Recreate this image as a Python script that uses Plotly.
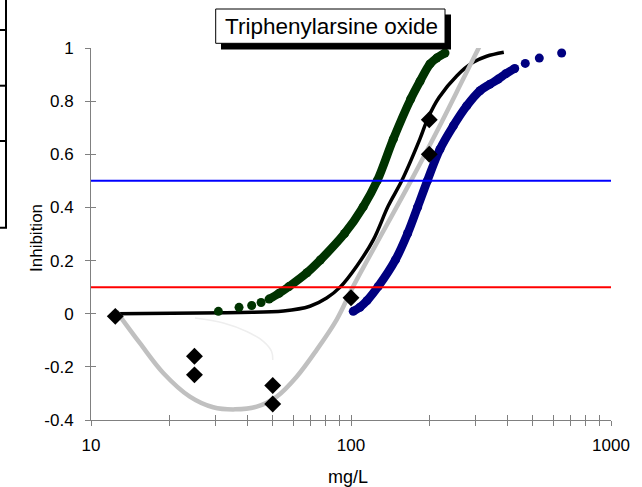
import plotly.graph_objects as go

# ---- data ----
diamond_x = [12.4, 25, 25, 50, 50, 100, 200, 200]
diamond_y = [-0.01, -0.16, -0.23, -0.27, -0.34, 0.06, 0.73, 0.6]

black_x = [12.5, 26.2, 37.5, 55, 69.5, 80.6, 90.8, 105, 122, 139, 156.7, 184, 198, 218, 255, 295, 332.5, 387]
black_y = [0.0, 0.003, 0.005, 0.01, 0.028, 0.059, 0.1, 0.178, 0.279, 0.405, 0.5, 0.657, 0.738, 0.814, 0.895, 0.946, 0.969, 0.984]

grey_x = [12.5, 15.4, 19, 24, 29.5, 35.8, 43.4, 51.8, 61.8, 73.8, 88, 102, 132.3, 170.2, 222.8, 270, 312]
grey_y = [0.01, -0.11, -0.224, -0.312, -0.352, -0.36, -0.35, -0.312, -0.237, -0.136, -0.023, 0.103, 0.306, 0.501, 0.72, 0.883, 1.006]

arc_x = [25.1, 32.3, 39.7, 46, 49.5, 50]
arc_y = [-0.016, -0.035, -0.067, -0.104, -0.142, -0.174]

green_x = [30.9, 37.1, 41.5, 45.1, 48.4, 52.9, 57.7, 67.7, 76.2, 94.5, 111.3, 126.2, 145.4, 169.7, 184.3, 201.3, 213.6, 229.9]
green_y = [0.009, 0.024, 0.031, 0.042, 0.055, 0.077, 0.102, 0.154, 0.202, 0.302, 0.402, 0.501, 0.657, 0.808, 0.875, 0.94, 0.962, 0.981]

blue_x = [102, 108.3, 115.2, 127.4, 148.2, 165.1, 180.3, 196.6, 219.8, 247.5, 278.6, 313.3, 342.4, 368.6, 393.7, 426.3, 468, 530, 646]
blue_y = [0.009, 0.0245, 0.049, 0.103, 0.2025, 0.302, 0.401, 0.5, 0.619, 0.707, 0.782, 0.839, 0.864, 0.883, 0.903, 0.923, 0.942, 0.962, 0.981]

hline_x = [10, 1000]
red_y = [0.1, 0.1]
blueline_y = [0.5, 0.5]

x_tickvals = [10, 20, 30, 40, 50, 60, 70, 80, 90, 100, 200, 300, 400, 500, 600, 700, 800, 900, 1000]
x_ticktext = ['10', '', '', '', '', '', '', '', '', '100', '', '', '', '', '', '', '', '', '1000']
y_tickvals = [-0.4, -0.2, 0, 0.2, 0.4, 0.6, 0.8, 1]
y_ticktext = ['-0.4', '-0.2', '0', '0.2', '0.4', '0.6', '0.8', '1']

title_text = 'Triphenylarsine oxide'

FONT = 'Liberation Sans, Arial, sans-serif'
GREEN = '#003300'
NAVY = '#000080'
GREY = '#c0c0c0'

fig = go.Figure()

fig.add_trace(go.Scatter(x=arc_x, y=arc_y, mode='lines', line=dict(color='#eeeeee', width=1.5, shape='spline'),
                         hoverinfo='skip', showlegend=False))
fig.add_trace(go.Scatter(x=black_x, y=black_y, mode='lines', line=dict(color='black', width=3.5, shape='spline'),
                         showlegend=False))
fig.add_trace(go.Scatter(x=grey_x, y=grey_y, mode='lines', line=dict(color=GREY, width=4.5, shape='spline'),
                         showlegend=False))
# green: dense part drawn as a thick band, all points drawn as dots
fig.add_trace(go.Scatter(x=green_x[4:], y=green_y[4:], mode='lines', line=dict(color=GREEN, width=8.5, shape='spline'),
                         showlegend=False, hoverinfo='skip'))
fig.add_trace(go.Scatter(x=green_x, y=green_y, mode='markers', marker=dict(color=GREEN, size=9),
                         showlegend=False))
# navy
fig.add_trace(go.Scatter(x=blue_x[:16], y=blue_y[:16], mode='lines', line=dict(color=NAVY, width=8.5, shape='spline'),
                         showlegend=False, hoverinfo='skip'))
fig.add_trace(go.Scatter(x=blue_x, y=blue_y, mode='markers', marker=dict(color=NAVY, size=9),
                         showlegend=False))
fig.add_trace(go.Scatter(x=diamond_x, y=diamond_y, mode='markers',
                         marker=dict(symbol='diamond', color='black', size=13), showlegend=False))
# horizontal reference lines on overlay axes (drawn on top)
fig.add_trace(go.Scatter(x=hline_x, y=red_y, mode='lines', line=dict(color='#ff0000', width=2),
                         xaxis='x2', yaxis='y2', showlegend=False))
fig.add_trace(go.Scatter(x=hline_x, y=blueline_y, mode='lines', line=dict(color='#0000ff', width=2),
                         xaxis='x2', yaxis='y2', showlegend=False))

axis_common = dict(showgrid=False, zeroline=False, showline=True, linecolor='#808080', linewidth=1,
                   tickcolor='#808080', ticklen=5, tickwidth=1)

def px2x(px):
    return (px - 91) / 520

def py2y(py):
    return (420 - py) / 372

shapes = [
    # cut-off box at the left edge
    dict(type='rect', xref='paper', yref='paper', x0=px2x(-20), x1=px2x(6), y0=py2y(227.7), y1=py2y(-20),
         line=dict(color='black', width=2), fillcolor='rgba(0,0,0,0)'),
    dict(type='line', xref='paper', yref='paper', x0=px2x(-20), x1=px2x(6), y0=py2y(30), y1=py2y(30),
         line=dict(color='black', width=2)),
    dict(type='line', xref='paper', yref='paper', x0=px2x(-20), x1=px2x(6), y0=py2y(85.7), y1=py2y(85.7),
         line=dict(color='black', width=2)),
    dict(type='line', xref='paper', yref='paper', x0=px2x(-20), x1=px2x(6), y0=py2y(141), y1=py2y(141),
         line=dict(color='black', width=2)),
    # title box shadow and box
    dict(type='rect', xref='paper', yref='paper', x0=px2x(221), x1=px2x(451), y0=py2y(49.5), y1=py2y(14.5),
         line=dict(width=0), fillcolor='black'),
    dict(type='rect', xref='paper', yref='paper', x0=px2x(215.7), x1=px2x(445), y0=py2y(43.3), y1=py2y(9),
         line=dict(color='black', width=1), fillcolor='white'),
]

annotations = [
    dict(text=title_text, xref='paper', yref='paper', x=px2x(331), y=py2y(26.5), showarrow=False,
         xanchor='center', yanchor='middle', font=dict(family=FONT, size=22.5, color='black')),
    dict(text='mg/L', xref='paper', yref='paper', x=px2x(347.5), y=py2y(477), showarrow=False,
         xanchor='center', yanchor='middle', font=dict(family=FONT, size=18, color='black')),
    dict(text='Inhibition', xref='paper', yref='paper', x=px2x(36), y=py2y(238), showarrow=False,
         textangle=-90, xanchor='center', yanchor='middle', font=dict(family=FONT, size=17, color='black')),
]

fig.update_layout(
    width=642, height=487,
    margin=dict(l=91, r=31, t=48, b=67, pad=0),
    paper_bgcolor='white', plot_bgcolor='white',
    font=dict(family=FONT, size=17, color='black'),
    showlegend=False,
    xaxis=dict(type='log', range=[1, 3], tickmode='array', tickvals=x_tickvals, ticktext=x_ticktext,
               ticks='outside', ticklabelstandoff=5, tickfont=dict(size=17, color='black'), **axis_common),
    yaxis=dict(range=[-0.4, 1], tickmode='array', tickvals=y_tickvals, ticktext=y_ticktext,
               ticks='outside', ticklabelstandoff=8, tickfont=dict(size=17, color='black'), **axis_common),
    xaxis2=dict(type='log', range=[1, 3], overlaying='x', anchor='y2', side='bottom', tickmode='array',
                tickvals=x_tickvals, ticks='inside', showticklabels=False, **axis_common),
    yaxis2=dict(range=[-0.4, 1], overlaying='y', anchor='x2', side='left', tickmode='array',
                tickvals=y_tickvals, ticks='inside', showticklabels=False, **axis_common),
    shapes=shapes,
    annotations=annotations,
)

fig.write_html('out.html', config={'displayModeBar': False},
               post_script="document.body.style.margin='0';document.body.style.overflow='hidden';")
